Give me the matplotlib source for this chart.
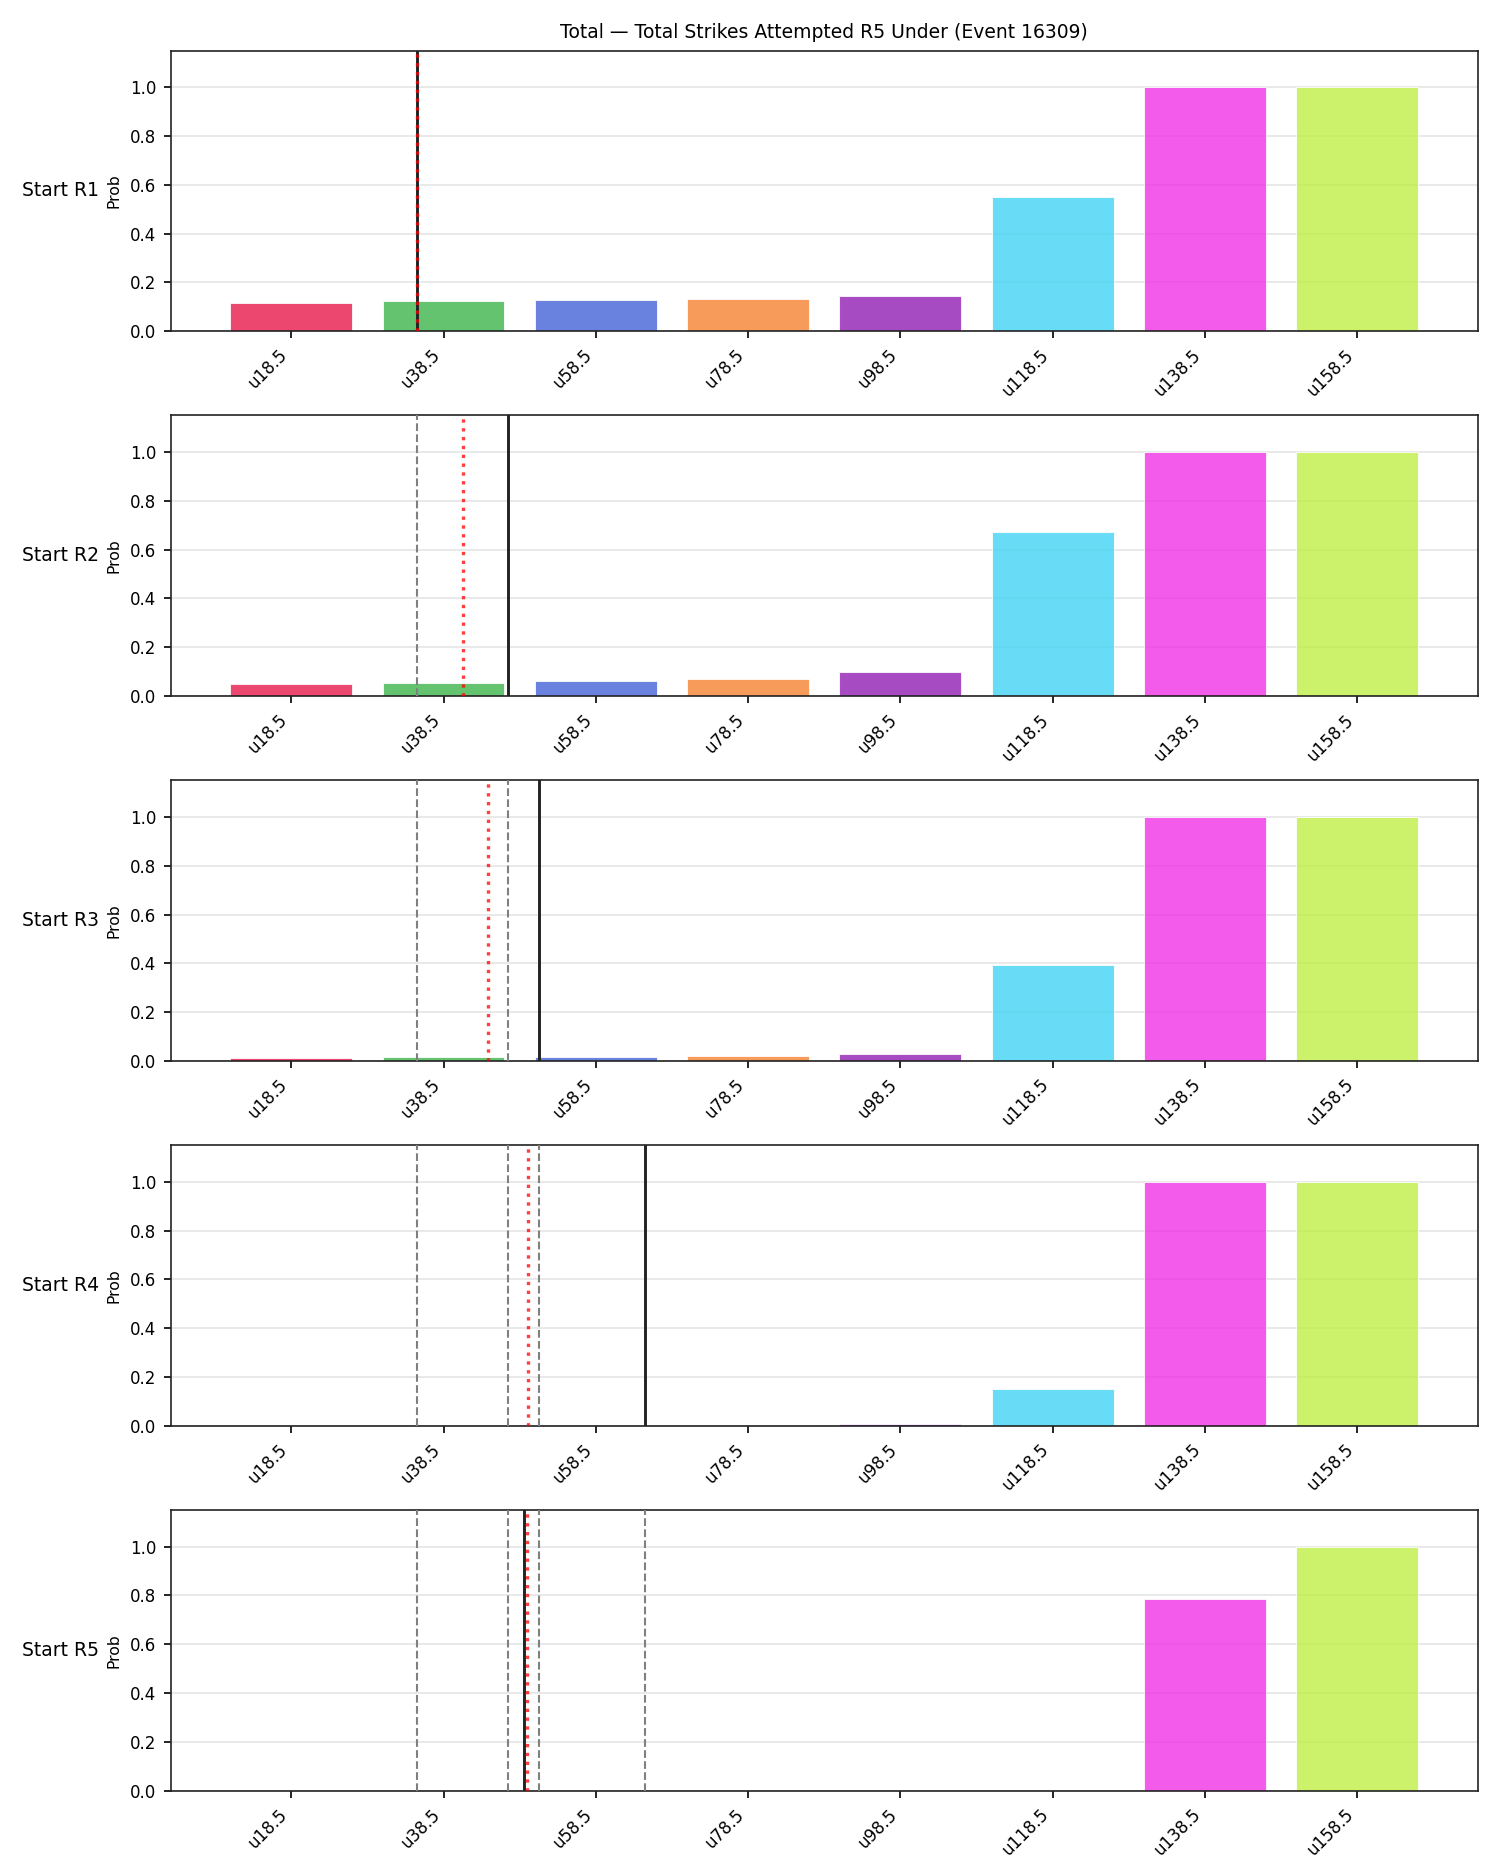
import numpy as np
import matplotlib
matplotlib.use('Agg')
import matplotlib.pyplot as plt

########################################################
# data
labels = ['u18.5', 'u38.5', 'u58.5', 'u78.5', 'u98.5', 'u118.5', 'u138.5', 'u158.5']
thresholds = [18.5, 38.5, 58.5, 78.5, 98.5, 118.5, 138.5, 158.5]
rows = ['Start R1', 'Start R2', 'Start R3', 'Start R4', 'Start R5']

prob_r1 = [0.115, 0.123, 0.128, 0.131, 0.143, 0.551, 1.0, 1.0]
prob_r2 = [0.048, 0.052, 0.060, 0.069, 0.097, 0.674, 1.0, 1.0]
prob_r3 = [0.011, 0.015, 0.015, 0.019, 0.027, 0.394, 1.0, 1.0]
prob_r4 = [0.0004, 0.0006, 0.0008, 0.0012, 0.007, 0.151, 1.0, 1.0]
prob_r5 = [0.0, 0.0, 0.0, 0.0, 0.0, 0.0, 0.785, 1.0]
probs = [prob_r1, prob_r2, prob_r3, prob_r4, prob_r5]

# solid = current total, dotted = projection, dashed = earlier rounds
current_total = [35.0, 47.0, 51.0, 65.0, 49.0]
projection = [35.0, 41.0, 44.3, 49.6, 49.5]

colors = ['#e6194b', '#3cb44b', '#4363d8', '#f58231', '#911eb4',
          '#42d4f4', '#f032e6', '#bfef45']
title = 'Total \u2014 Total Strikes Attempted R5 Under (Event 16309)'

########################################################
fig, axes = plt.subplots(5, 1, figsize=(10, 12.5), dpi=150)
fig.subplots_adjust(left=0.114, right=0.985, top=0.973, bottom=0.045, hspace=0.3)

idx = np.arange(len(labels))

def to_x(v):
    # map a stat value onto the threshold category axis
    return np.interp(v, thresholds, idx)

for i, ax in enumerate(axes):
    ax.bar(idx, probs[i], width=0.8, color=colors, alpha=0.8, edgecolor='white', linewidth=0.5, zorder=2)
    for j in range(i):
        ax.axvline(to_x(current_total[j]), color='gray', linestyle='--', linewidth=1.0, zorder=3)
    ax.axvline(to_x(current_total[i]), color='#222222', linestyle='-', linewidth=1.4, zorder=4)
    ax.axvline(to_x(projection[i]), color='red', linestyle=':', linewidth=1.6, alpha=0.75, zorder=5)
    ax.set_ylim(0, 1.15)
    ax.set_yticks([0.0, 0.2, 0.4, 0.6, 0.8, 1.0])
    ax.set_xticks(idx)
    ax.set_xticklabels(labels, rotation=45, ha='right', fontsize=8)
    ax.tick_params(axis='y', labelsize=8)
    ax.set_ylabel('Prob', fontsize=7.5)
    ax.yaxis.grid(True, color='#e5e5e5', linewidth=0.8, zorder=0)
    ax.set_axisbelow(True)
    for s in ax.spines.values():
        s.set_color('#222222')
    bb = ax.get_position()
    fig.text(0.015, (bb.y0 + bb.y1) / 2, rows[i], ha='left', va='center', fontsize=9)

axes[0].set_title(title, fontsize=9)

plt.savefig('out.png', dpi=150)
